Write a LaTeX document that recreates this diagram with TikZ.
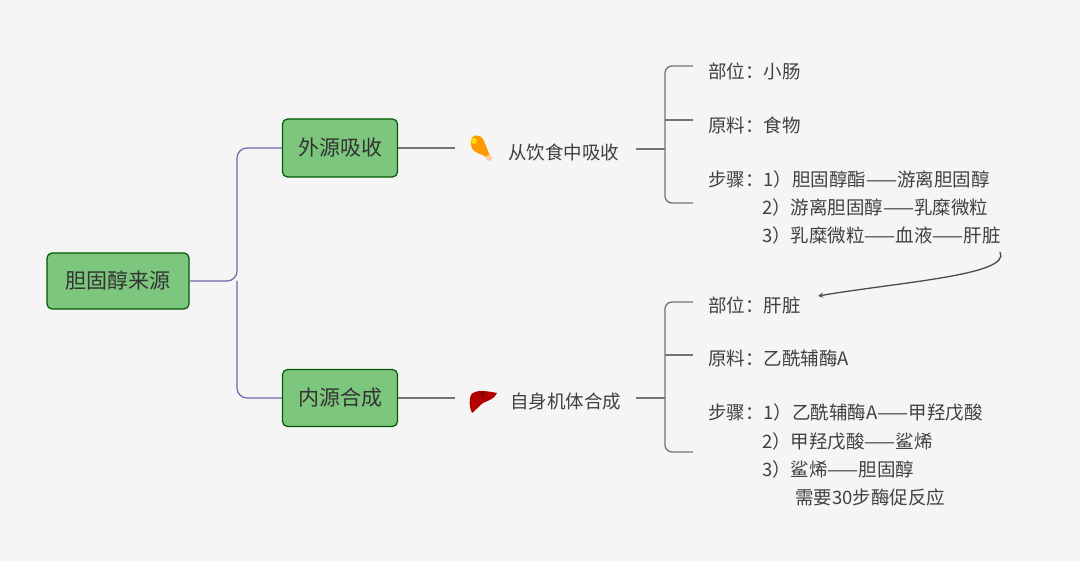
\documentclass[tikz,border=0pt]{standalone}
\usepackage{fontspec}
\setmainfont{Noto Sans CJK SC}
\begin{document}
\begin{tikzpicture}[x=1pt,y=-1pt,
  box/.style={draw=green!35!black,fill={rgb,255:red,125;green,198;blue,126},rounded corners=5pt,line width=1.2pt,text=black!80,font=\fontsize{21}{24}\selectfont,inner sep=0pt},
  lbl/.style={text=black!75,font=\fontsize{18.5}{22}\selectfont,anchor=west,inner sep=0pt},
  pur/.style={draw={rgb,255:red,120;green,100;blue,170},line width=1.2pt,rounded corners=10pt},
  gr/.style={draw=black!55,line width=1.3pt,rounded corners=7pt}]
\fill[black!4] (0,0) rectangle (1080,561);
\useasboundingbox (0,0) rectangle (1080,561);
\node[box,minimum width=142pt,minimum height=56pt] (root) at (118,281) {胆固醇来源};
\node[box,minimum width=115pt,minimum height=58pt] (up) at (340,148) {外源吸收};
\node[box,minimum width=115pt,minimum height=57pt] (lo) at (340,398) {内源合成};
\coordinate (j) at (237,281);
\draw[pur] (root.east) -- (j) |- (up.west);
\draw[pur] (j) |- (lo.west);
\node[lbl] (ut) at (508,152) {从饮食中吸收};
\node[lbl] (lt) at (510,402) {自身机体合成};
\draw[gr] (up.east) -- (455,148);
\draw[gr] (lo.east) -- (455,398);
% drumstick
\begin{scope}[shift={(481,147)}]
\fill[orange!80!yellow] (-10,-2) .. controls (-12,-14) and (0,-14) .. (3,-6) .. controls (6,2) and (8,6) .. (9,9) -- (6,11) .. controls (2,6) and (-8,8) .. (-10,-2);
\fill[yellow!80!orange] (-7,-6) circle (3);
\fill[orange!40!white] (8,11) circle (3);
\end{scope}
% liver
\begin{scope}[shift={(483,401)}]
\fill[red!70!black] (-12,-6) .. controls (-8,-12) and (4,-10) .. (14,-8) .. controls (12,-2) and (4,0) .. (0,2) .. controls (-4,5) and (-8,10) .. (-11,12) .. controls (-14,6) and (-14,-2) .. (-12,-6);
\fill[red!55!black] (-3,-9) -- (0,-1) -- (2,-9) -- cycle;
\end{scope}
% brackets
\coordinate (uj) at (665,149);
\draw[gr] (636,149) -- (uj);
\draw[gr] (693,66) -| (uj) |- (693,203);
\draw[gr] (665,120) -- (693,120);
\coordinate (lj) at (665,398);
\draw[gr] (636,398) -- (lj);
\draw[gr] (693,302) -| (lj) |- (693,452);
\draw[gr] (665,355) -- (693,355);
\node[lbl] (a1) at (708,71) {部位：小肠};
\node[lbl] (a2) at (708,125) {原料：食物};
\node[lbl] (a3) at (708,179) {步骤：1）胆固醇酯——游离胆固醇};
\node[lbl] (a4) at (762,207) {2）游离胆固醇——乳糜微粒};
\node[lbl] (a5) at (762,235) {3）乳糜微粒——血液——肝脏};
\node[lbl] (b1) at (708,305) {部位：肝脏};
\node[lbl] (b2) at (708,358) {原料：乙酰辅酶A};
\node[lbl] (b3) at (708,412) {步骤：1）乙酰辅酶A——甲羟戊酸};
\node[lbl] (b4) at (762,441) {2）甲羟戊酸——鲨烯};
\node[lbl] (b5) at (762,469) {3）鲨烯——胆固醇};
\node[lbl] (b6) at (795,497) {需要30步酶促反应};
\coordinate (ae) at (818,296);
\draw[black!70,line width=1.3pt,->,>={stealth}] (1000,252) .. controls (1012,275) and (900,282) .. (ae);
\end{tikzpicture}
\end{document}
